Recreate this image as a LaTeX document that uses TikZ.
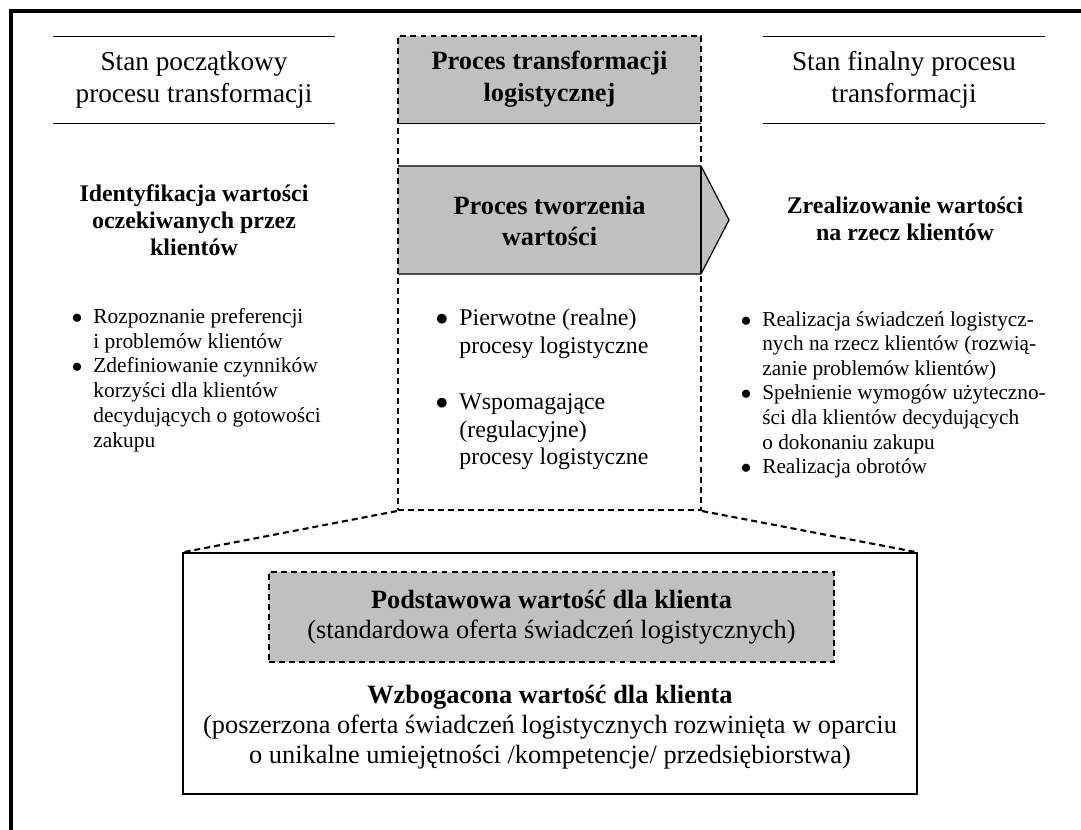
\documentclass[tikz,border=0pt]{standalone}
\usepackage{fontspec}
\setmainfont{Liberation Serif}
\usetikzlibrary{positioning, calc}
\newcommand{\jedn}{0.02cm}
\newcommand{\pkt}{\llap{$\bullet$\hspace{2.2mm}}}
\definecolor{szary}{RGB}{192,192,192}
\tikzset{
  cienka/.style={line width=0.7pt},
  kreska/.style={line width=1.2pt, dash pattern=on 3.4pt off 2.3pt},
  stan/.style={minimum width=282*\jedn, minimum height=87*\jedn, inner sep=0pt,
    align=center, font=\fontsize{15.5}{18.1}\selectfont},
  tytul/.style={inner sep=0pt, align=center, font=\fontsize{15}{18.1}\selectfont\bfseries},
  cel/.style={inner sep=0pt, align=center, font=\fontsize{13.6}{15.3}\selectfont\bfseries},
  lista/.style={inner sep=0pt, align=left, anchor=north west, font=\fontsize{12.2}{14.1}\selectfont},
  opis/.style={inner sep=0pt, align=center, font=\fontsize{15}{16.9}\selectfont}
}

\begin{document}
\begin{tikzpicture}[x=\jedn, y=-\jedn]
  \useasboundingbox (0,0) rectangle (1081,830);
  % frame
  \draw[line width=2.3pt] (11,830) -- (11,11) -- (1081,11);
  % side headers
  \node[stan] (poczatek) at (194,80) {Stan początkowy\\procesu transformacji};
  \draw[cienka] (poczatek.north west) -- (poczatek.north east);
  \draw[cienka] (poczatek.south west) -- (poczatek.south east);
  \node[stan] (finalny) at (904,80) {Stan finalny procesu\\transformacji};
  \draw[cienka] (finalny.north west) -- (finalny.north east);
  \draw[cienka] (finalny.south west) -- (finalny.south east);
  % middle header
  \node[tytul, fill=szary, minimum width=303*\jedn, minimum height=87*\jedn] (transf) at (549.5,79.5)
    {Proces transformacji\\logistycznej};
  \draw[cienka] (transf.south west) -- (transf.south east);
  % value arrow
  \draw[cienka, fill=szary] (398,166) -- (701,166) -- (729,220) -- (701,274) -- (398,274);
  \draw[cienka] (701,166) -- (701,274);
  \node[tytul] (tworzenie) at (549.5,221) {Proces tworzenia\\wartości};
  % middle column
  \node[kreska, draw, minimum width=303*\jedn, minimum height=474*\jedn] (kolumna) at (549.5,273) {};
  % goals
  \node[cel] (identyf) at (194,220) {Identyfikacja wartości\\oczekiwanych przez\\klientów};
  \node[cel] (zreal) at (905,219) {Zrealizowanie wartości\\na rzecz klientów};
  % lists
  \node[lista] (lewa) at (93,308) {\pkt Rozpoznanie preferencji\\i problemów klientów\\
    \pkt Zdefiniowanie czynników\\korzyści dla klientów\\decydujących o gotowości\\zakupu};
  \node[lista, font=\fontsize{13.6}{15.6}\selectfont] (srodek) at (459,309)
    {\pkt Pierwotne (realne)\\procesy logistyczne\\[16.5pt]
    \pkt Wspomagające\\(regulacyjne)\\procesy logistyczne};
  \node[lista, font=\fontsize{12.1}{14}\selectfont] (prawa) at (762,311)
    {\pkt Realizacja świadczeń logistycz-\\nych na rzecz klientów (rozwią-\\
    zanie problemów klientów)\\\pkt Spełnienie wymogów użyteczno-\\ści dla klientów decydujących\\
    o dokonaniu zakupu\\\pkt Realizacja obrotów};
  % customer value
  \node[cienka, draw, minimum width=734*\jedn, minimum height=241*\jedn] (wzbog) at (550,673.5) {};
  \node[opis, kreska, draw, fill=szary, minimum width=565*\jedn, minimum height=90*\jedn] (podst)
    at (551.5,617) {\textbf{Podstawowa wartość dla klienta}\\(standardowa oferta świadczeń logistycznych)};
  \node[opis] (wzbogopis) at (550,727) {\textbf{Wzbogacona wartość dla klienta}\\
    (poszerzona oferta świadczeń logistycznych rozwinięta w oparciu\\
    o unikalne umiejętności /kompetencje/ przedsiębiorstwa)};
  \draw[kreska] (kolumna.south west) -- (wzbog.north west);
  \draw[kreska] (kolumna.south east) -- (wzbog.north east);
\end{tikzpicture}
\end{document}
